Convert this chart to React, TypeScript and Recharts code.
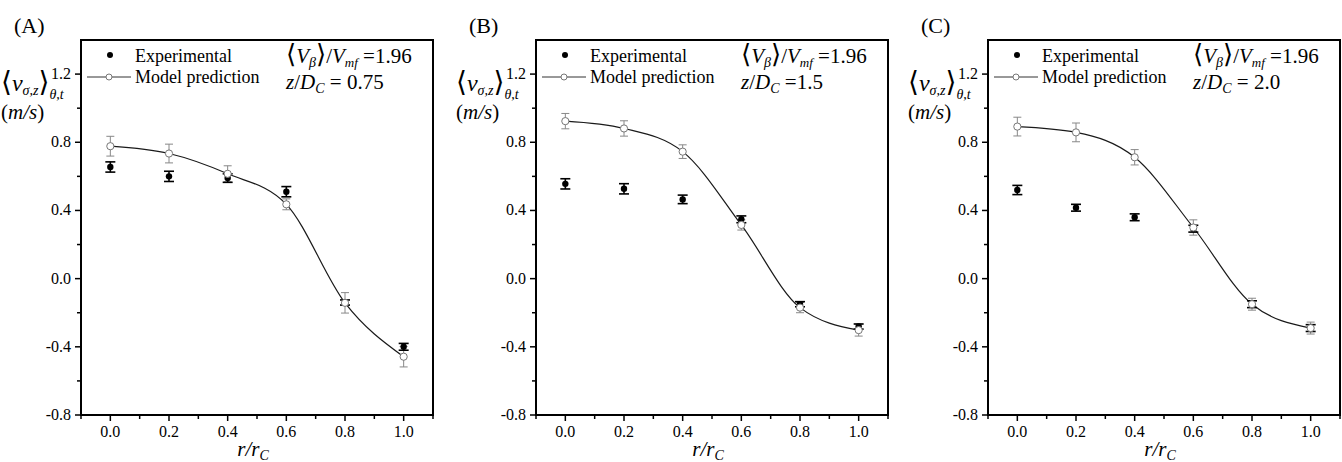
import { ComposedChart, Line, Scatter, XAxis, YAxis, ErrorBar, ReferenceArea } from "recharts";

const SERIF = "Liberation Serif, DejaVu Serif";

// radial position r/r_C
const R = [0, 0.2, 0.4, 0.6, 0.8, 1.0];

// panel A, z/D_C = 0.75
const EXP_A = [0.655, 0.6, 0.59, 0.51, -0.14, -0.4];
const EXP_ERR_A = [0.03, 0.03, 0.025, 0.03, 0.015, 0.02];
const MODEL_A = [0.777, 0.734, 0.615, 0.436, -0.142, -0.458];
const MODEL_ERR_A = [0.058, 0.055, 0.047, 0.032, 0.06, 0.06];

// panel B, z/D_C = 1.5
const EXP_B = [0.556, 0.527, 0.465, 0.348, -0.15, -0.281];
const EXP_ERR_B = [0.03, 0.03, 0.025, 0.02, 0.015, 0.015];
const MODEL_B = [0.924, 0.881, 0.745, 0.315, -0.17, -0.302];
const MODEL_ERR_B = [0.045, 0.045, 0.04, 0.03, 0.03, 0.035];

// panel C, z/D_C = 2.0
const EXP_C = [0.52, 0.416, 0.36, 0.293, -0.15, -0.29];
const EXP_ERR_C = [0.027, 0.02, 0.02, 0.02, 0.02, 0.02];
const MODEL_C = [0.892, 0.858, 0.712, 0.3, -0.15, -0.29];
const MODEL_ERR_C = [0.055, 0.055, 0.045, 0.045, 0.035, 0.035];

const X_TICKS = [-0.1, 0, 0.1, 0.2, 0.3, 0.4, 0.5, 0.6, 0.7, 0.8, 0.9, 1.0, 1.1];
const X_MAJOR = [0, 0.2, 0.4, 0.6, 0.8, 1.0];
const X_LABELS = ["0.0", "0.2", "0.4", "0.6", "0.8", "1.0"];
const Y_TICKS = [-0.8, -0.6, -0.4, -0.2, 0, 0.2, 0.4, 0.6, 0.8, 1.0, 1.2];
const Y_MAJOR = [-0.8, -0.4, 0, 0.4, 0.8, 1.2];
const Y_LABELS = ["-0.8", "-0.4", "0.0", "0.4", "0.8", "1.2"];

const TAGS = ["(A)", "(B)", "(C)"];
const Z_VALUES = ["= 0.75", "=1.5", "= 2.0"];
const VB_RATIO = "=1.96";

const build = (exp: number[], expErr: number[], model: number[], modelErr: number[]) =>
  R.map((r, i) => ({ r, exp: exp[i], expErr: expErr[i], model: model[i], modelErr: modelErr[i] }));

const PANELS = [
  build(EXP_A, EXP_ERR_A, MODEL_A, MODEL_ERR_A),
  build(EXP_B, EXP_ERR_B, MODEL_B, MODEL_ERR_B),
  build(EXP_C, EXP_ERR_C, MODEL_C, MODEL_ERR_C),
];

const CHART_LEFT = [0, 455, 907];
const PLOT_LEFT = 81; // inside each chart
const PLOT_W = 352;

const findMajor = (v: number, majors: number[]) => majors.findIndex((m) => Math.abs(m - v) < 1e-6);

const XTick = (props: any) => {
  const { x, y, payload } = props;
  const idx = findMajor(payload.value, X_MAJOR);
  const top = y - 10;
  return (
    <g>
      <line x1={x} x2={x} y1={top} y2={top + (idx >= 0 ? 6 : 4)} stroke="#000" strokeWidth={1.5} />
      {idx >= 0 && (
        <text x={x} y={y + 12} textAnchor="middle" style={{ fontFamily: SERIF }} fontSize={16} fill="#000">
          {X_LABELS[idx]}
        </text>
      )}
    </g>
  );
};

const YTick = (props: any) => {
  const { x, y, payload } = props;
  const idx = findMajor(payload.value, Y_MAJOR);
  const axisX = x + 10;
  return (
    <g>
      <line x1={axisX - (idx >= 0 ? 6 : 4)} x2={axisX} y1={y} y2={y} stroke="#000" strokeWidth={1.5} />
      {idx >= 0 && (
        <text x={x} y={y + 5} textAnchor="end" style={{ fontFamily: SERIF }} fontSize={16} fill="#000">
          {Y_LABELS[idx]}
        </text>
      )}
    </g>
  );
};

const OpenDot = (props: any) => {
  const { cx, cy, index } = props;
  return <circle key={`o-${index}`} cx={cx} cy={cy} r={3.6} fill="#fff" stroke="#777" strokeWidth={1} />;
};

const FilledDot = (props: any) => <circle cx={props.cx} cy={props.cy} r={3.2} fill="#000" />;

const Panel = ({ data, left }: { data: any[]; left: number }) => (
  <div style={{ position: "absolute", left, top: 0 }}>
    <ComposedChart width={435} height={462} data={data} margin={{ top: 40, right: 2, bottom: 17, left: 41 }}>
      <XAxis
        type="number"
        dataKey="r"
        domain={[-0.1, 1.1]}
        ticks={X_TICKS}
        interval={0}
        tick={(p: any) => <XTick {...p} />}
        tickLine={false}
        tickSize={6}
        tickMargin={4}
        height={30}
        axisLine={{ stroke: "#000", strokeWidth: 2 }}
      />
      <YAxis
        type="number"
        domain={[-0.8, 1.4]}
        ticks={Y_TICKS}
        interval={0}
        tick={(p: any) => <YTick {...p} />}
        tickLine={false}
        tickSize={6}
        tickMargin={4}
        width={40}
        axisLine={{ stroke: "#000", strokeWidth: 2 }}
      />
      <ReferenceArea x1={-0.1} x2={1.1} y1={-0.8} y2={1.4} fill="none" stroke="#000" strokeWidth={2} />
      <Line
        dataKey="model"
        type="monotone"
        stroke="#1a1a1a"
        strokeWidth={1.2}
        dot={(p: any) => <OpenDot {...p} />}
        activeDot={false}
        isAnimationActive={false}
      >
        <ErrorBar dataKey="modelErr" direction="y" width={4} stroke="#888" strokeWidth={1} />
      </Line>
      <Scatter dataKey="exp" shape={(p: any) => <FilledDot {...p} />} isAnimationActive={false}>
        <ErrorBar dataKey="expErr" direction="y" width={5} stroke="#000" strokeWidth={1.6} />
      </Scatter>
    </ComposedChart>
  </div>
);

const Annotations = ({ chartLeft, i }: { chartLeft: number; i: number }) => {
  const L = chartLeft + PLOT_LEFT;
  const yl = L - 80;
  const ax = L + 205;
  return (
    <g style={{ fontFamily: SERIF }} fill="#000">
      <text x={chartLeft + 14} y={33} fontSize={22}>{TAGS[i]}</text>

      {/* y axis title */}
      <text x={yl} y={91} fontSize={24}>
        <tspan fontSize={28}>⟨</tspan>
        <tspan fontStyle="italic">v</tspan>
        <tspan fontSize={14} fontStyle="italic" dy={4}>σ,z</tspan>
        <tspan fontSize={28} dy={-4}>⟩</tspan>
        <tspan fontSize={14} fontStyle="italic" dy={8}>θ,t</tspan>
      </text>
      <text x={yl} y={119} fontSize={21}>
        (<tspan fontStyle="italic">m/s</tspan>)
      </text>

      {/* legend */}
      <circle cx={L + 29} cy={55} r={3} fill="#000" />
      <text x={L + 54} y={62} fontSize={18}>Experimental</text>
      <line x1={L + 6} x2={L + 50} y1={77} y2={77} stroke="#333" strokeWidth={1} />
      <circle cx={L + 28} cy={77} r={3} fill="#fff" stroke="#777" strokeWidth={1} />
      <text x={L + 54} y={83} fontSize={18}>Model prediction</text>

      {/* conditions */}
      <text x={ax} y={63} fontSize={21}>
        <tspan fontSize={26}>⟨</tspan>
        <tspan fontStyle="italic">V</tspan>
        <tspan fontSize={14} fontStyle="italic" dy={4}>β</tspan>
        <tspan fontSize={26} dy={-4}>⟩</tspan>
        <tspan>/</tspan>
        <tspan fontStyle="italic">V</tspan>
        <tspan fontSize={13} fontStyle="italic" dy={4}>mf</tspan>
        <tspan dy={-4}>{" " + VB_RATIO}</tspan>
      </text>
      <text x={ax} y={89} fontSize={21}>
        <tspan fontStyle="italic">z</tspan>
        <tspan>/</tspan>
        <tspan fontStyle="italic">D</tspan>
        <tspan fontSize={14} fontStyle="italic" dy={4}>C</tspan>
        <tspan dy={-4}>{" " + Z_VALUES[i]}</tspan>
      </text>

      {/* x axis title */}
      <text x={L + PLOT_W / 2 - 4} y={456} fontSize={21} textAnchor="middle">
        <tspan fontStyle="italic">r/r</tspan>
        <tspan fontSize={14} fontStyle="italic" dy={4}>C</tspan>
      </text>
    </g>
  );
};

export default function App() {
  return (
    <div style={{ position: "absolute", left: 0, top: 0, width: 1342, height: 462, background: "#fff", overflow: "hidden" }}>
      {PANELS.map((d, i) => (
        <Panel key={i} data={d} left={CHART_LEFT[i]} />
      ))}
      <svg width={1342} height={462} style={{ position: "absolute", left: 0, top: 0, pointerEvents: "none" }}>
        {CHART_LEFT.map((cl, i) => (
          <Annotations key={i} chartLeft={cl} i={i} />
        ))}
      </svg>
    </div>
  );
}
